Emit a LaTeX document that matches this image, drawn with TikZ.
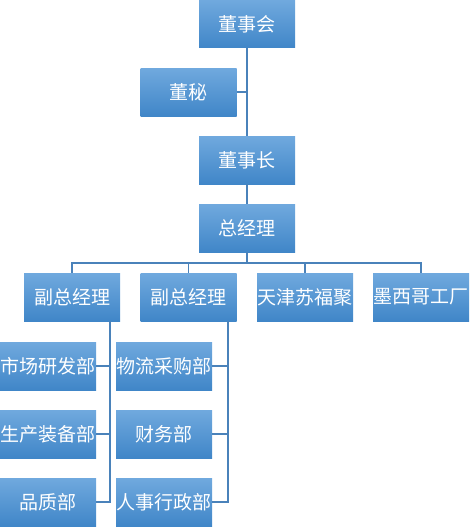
\documentclass[tikz,border=0pt]{standalone}
\usepackage{fontspec}
\newfontfamily\cjk{Noto Sans CJK SC}
\definecolor{boxtop}{RGB}{112,169,222}
\definecolor{boxbot}{RGB}{64,134,200}
\definecolor{linec}{RGB}{74,130,186}
\begin{document}
\begin{tikzpicture}[x=1pt,y=-1pt,
  orgbox/.style={rectangle, minimum width=96pt, minimum height=48pt, inner sep=0pt,
    top color=boxtop, bottom color=boxbot, draw=none, text=white,
    font=\cjk\fontsize{19}{22}\selectfont},
  conn/.style={draw=linec, line width=1.1pt}]
\useasboundingbox (0,0) rectangle (469,527);
\node[orgbox] (hui) at (247,24) {董事会};
\node[orgbox] (mi) at (188.5,92) {董秘};
\node[orgbox] (zhang) at (247,160) {董事长};
\node[orgbox] (zjl) at (247,228) {总经理};
\node[orgbox] (f1) at (72,297) {副总经理};
\node[orgbox] (f2) at (188.5,297) {副总经理};
\node[orgbox] (tj) at (305,297) {天津苏福聚};
\node[orgbox] (mx) at (421,297) {墨西哥工厂};
\node[orgbox] (a1) at (48,366) {市场研发部};
\node[orgbox] (a2) at (48,434) {生产装备部};
\node[orgbox] (a3) at (48,502) {品质部};
\node[orgbox] (b1) at (164,366) {物流采购部};
\node[orgbox] (b2) at (164,434) {财务部};
\node[orgbox] (b3) at (164,502) {人事行政部};
\coordinate (bus) at (247,263);
\draw[conn] (hui.south) -- (zhang.north);
\draw[conn] (mi.east) -- (mi.east -| hui.south);
\draw[conn] (zhang.south) -- (zjl.north);
\draw[conn] (zjl.south) -- (bus);
\draw[conn] (f1.north) |- (bus) -| (mx.north);
\draw[conn] (f2.north) -- (f2.north |- bus);
\draw[conn] (tj.north) -- (tj.north |- bus);
\coordinate (s1) at ([xshift=38pt]f1.south);
\coordinate (s2) at ([xshift=39.5pt]f2.south);
\draw[conn] (s1) |- (a3.east);
\draw[conn] (a1.east) -- (a1.east -| s1);
\draw[conn] (a2.east) -- (a2.east -| s1);
\draw[conn] (s2) |- (b3.east);
\draw[conn] (b1.east) -- (b1.east -| s2);
\draw[conn] (b2.east) -- (b2.east -| s2);
\end{tikzpicture}
\end{document}
